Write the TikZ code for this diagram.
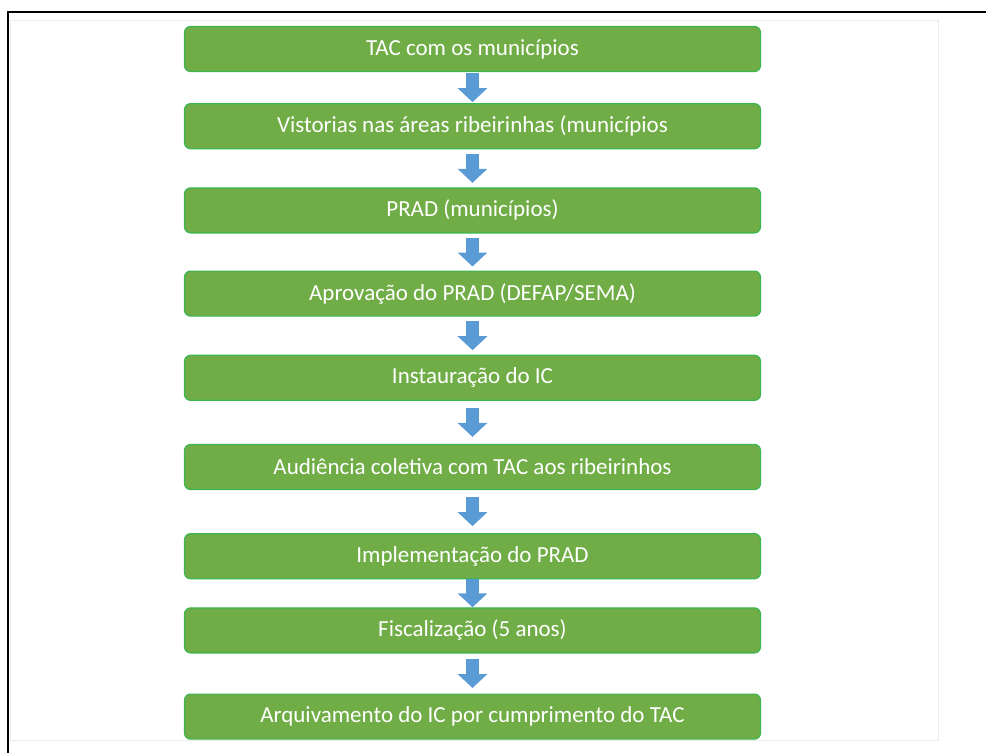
\documentclass[tikz,border=0pt]{standalone}
\usepackage{fontspec}
\setmainfont{Carlito}
\usetikzlibrary{positioning,arrows.meta}
\definecolor{stepgreen}{RGB}{112,173,71}
\definecolor{stepline}{RGB}{60,182,80}
\definecolor{flowblue}{RGB}{91,155,213}
\begin{document}
\begin{tikzpicture}[
    x=1pt, y=-1pt,
    stepbox/.style={rectangle, rounded corners=6pt, draw=stepline, line width=1.2pt, fill=stepgreen,
        text=white, minimum width=576pt, minimum height=45pt, inner sep=0pt,
        font=\fontsize{23}{27}\selectfont},
    flow/.style={draw=flowblue, line width=13pt, -{Triangle[width=29pt,length=14pt]}}
]
    % Frame
    \useasboundingbox (0,0) rectangle (986,753);
    \draw [black!8, line width=0.8pt] (10,20) rectangle (938,740);
    \draw [black, line width=2.5pt] (986,12) -- (8,12) -- (8,753);

    % Steps
    \node (tac) [stepbox] at (472.5,49) {TAC com os municípios};
    \node (vist) [stepbox, below=31pt of tac] {Vistorias nas áreas ribeirinhas (municípios};
    \node (prad) [stepbox, below=38pt of vist] {PRAD (municípios)};
    \node (aprov) [stepbox, below=37pt of prad] {Aprovação do PRAD (DEFAP/SEMA)};
    \node (ic) [stepbox, below=38pt of aprov] {Instauração do IC};
    \node (aud) [stepbox, below=43pt of ic] {Audiência coletiva com TAC aos ribeirinhos};
    \node (impl) [stepbox, below=43pt of aud] {Implementação do PRAD};
    \node (fisc) [stepbox, below=28pt of impl] {Fiscalização (5 anos)};
    \node (arq) [stepbox, below=40pt of fisc] {Arquivamento do IC por cumprimento do TAC};

    % Flow
    \foreach \a/\b/\s in {tac/vist/1, vist/prad/4.5, prad/aprov/4, aprov/ic/4.5,
                          ic/aud/7, aud/impl/7, impl/fisc/0, fisc/arq/5.5}
        \draw [flow, shorten <=\s pt, shorten >=\s pt] (\a.south) -- (\b.north);
\end{tikzpicture}
\end{document}
